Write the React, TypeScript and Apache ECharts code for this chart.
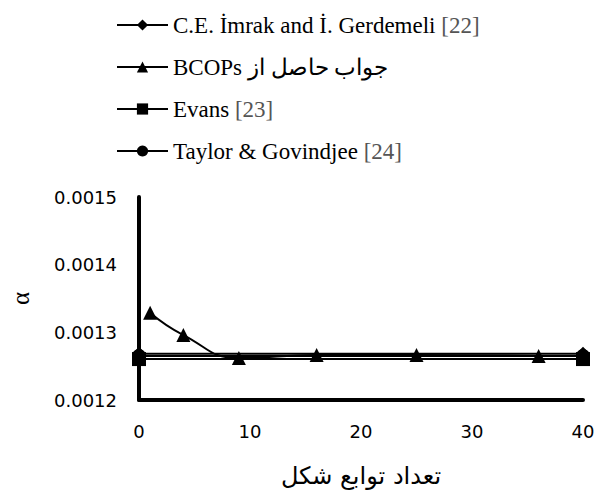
import React, { useEffect, useRef } from "react";
import * as echarts from "echarts";

const imrakX = [0, 40];
const imrakY = [0.0012685, 0.0012685];
const bcopsX = [1, 4, 9, 16, 25, 36];
const bcopsY = [0.001329, 0.001296, 0.001262, 0.0012665, 0.0012665, 0.001265];
const evansX = [0, 40];
const evansY = [0.0012605, 0.0012605];
const taylorX = [0, 40];
const taylorY = [0.001265, 0.001265];

const names = [
  "C.E. İmrak and İ. Gerdemeli [22]",
  "BCOPs جواب حاصل از",
  "Evans [23]",
  "Taylor & Govindjee [24]",
];
const yTicks = { min: 0.0012, max: 0.0015, step: 0.0001 };
const xTicks = { min: 0, max: 40, step: 10 };

const zip = (xs: number[], ys: number[]) => xs.map((x, i) => [x, ys[i]]);

export default function App() {
  const ref = useRef<HTMLDivElement>(null);
  useEffect(() => {
    const chart = echarts.init(ref.current!, null, { renderer: "svg" });
    const lineStyle = { color: "#000", width: 2 };
    const common = {
      type: "line",
      color: "#000",
      lineStyle,
      itemStyle: { color: "#000" },
      symbolSize: 14,
    };
    chart.setOption({
      animation: false,
      backgroundColor: "#fff",
      legend: {
        orient: "vertical",
        left: 111,
        top: 8,
        itemWidth: 51,
        itemHeight: 14,
        itemGap: 18,
        data: names,
        textStyle: {
          fontFamily: "Liberation Serif",
          fontSize: 23,
          color: "#000",
          lineHeight: 24,
          rich: {
            g: { color: "#555", fontFamily: "Liberation Serif", fontSize: 23 },
          },
        },
        formatter: (n: string) => {
          const m = n.match(/^(.*)(\[\d+\])$/);
          return m ? `${m[1]}{g|${m[2]}}` : n;
        },
      },
      grid: { left: 133, right: 15, top: 197, bottom: 90 },
      xAxis: {
        type: "value",
        min: xTicks.min,
        max: xTicks.max,
        interval: xTicks.step,
        name: "تعداد توابع شکل",
        nameLocation: "middle",
        nameGap: 64,
        nameTextStyle: { fontFamily: "DejaVu Sans", fontSize: 24, color: "#000" },
        axisLine: { lineStyle: { color: "#000", width: 4 } },
        axisTick: { show: false },
        splitLine: { show: false },
        axisLabel: { fontFamily: "DejaVu Sans", fontSize: 18, color: "#000", margin: 22 },
      },
      yAxis: {
        type: "value",
        min: yTicks.min,
        max: yTicks.max,
        interval: yTicks.step,
        name: "α",
        nameLocation: "middle",
        nameGap: 106,
        nameRotate: 90,
        nameTextStyle: { fontFamily: "Liberation Serif", fontSize: 25, color: "#000" },
        axisLine: { show: true, lineStyle: { color: "#000", width: 4 } },
        axisTick: { show: false },
        splitLine: { show: false },
        axisLabel: {
          fontFamily: "DejaVu Sans",
          fontSize: 18,
          color: "#000",
          margin: 22,
          formatter: (v: number) => v.toFixed(4),
        },
      },
      series: [
        { ...common, name: names[0], symbol: "diamond", data: zip(imrakX, imrakY), z: 3 },
        { ...common, name: names[1], symbol: "triangle", smooth: 0.5, data: zip(bcopsX, bcopsY), z: 5 },
        { ...common, name: names[2], symbol: "rect", data: zip(evansX, evansY), z: 4 },
        { ...common, name: names[3], symbol: "circle", data: zip(taylorX, taylorY), z: 2 },
      ],
    });
    return () => chart.dispose();
  }, []);
  return (
    <div
      ref={ref}
      style={{ width: 598, height: 490, position: "absolute", left: 0, top: 0 }}
    />
  );
}
